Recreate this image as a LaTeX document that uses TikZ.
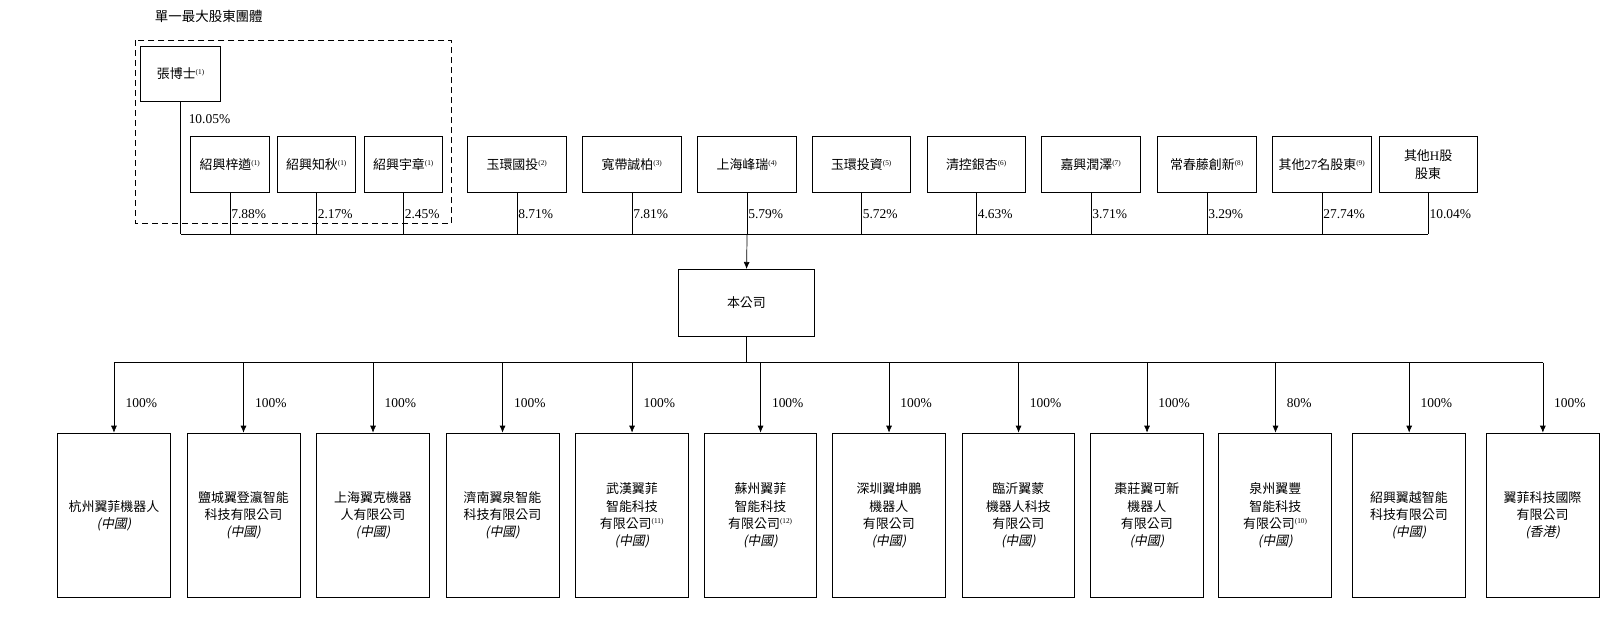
\documentclass[tikz,border=0pt]{standalone}
\usepackage{fontspec}
\usetikzlibrary{arrows.meta}
\setmainfont{Noto Sans CJK TC}
\newfontfamily\lat{Liberation Serif}
\newfontfamily\cjkit{Noto Sans CJK TC}[FakeSlant=0.2]
\newcommand{\nt}[1]{\textsuperscript{\lat\scriptsize(#1)}}
\newcommand{\cn}{{\cjkit (中國)}}
\begin{document}
\begin{tikzpicture}[x=1pt,y=-1pt,scale=1.036,every node/.style={transform shape},
  box/.style={draw,line width=0.8pt,inner sep=0pt,align=center,font=\fontsize{12.5}{18}\selectfont},
  pct/.style={anchor=west,font=\lat\fontsize{13}{15}\selectfont,inner sep=1pt},
  ln/.style={line width=0.7pt},
  arr/.style={ln,-{Latex[length=7pt,width=6pt]}}]
\useasboundingbox (0,0) rectangle (1567.6,597.5);
\node[anchor=west,font=\fontsize{13}{15}\selectfont] (title) at (146,16) {單一最大股東團體};
\draw[dashed,line width=0.9pt,dash pattern=on 6pt off 4pt] (131,39) rectangle (436,216);
\node[box,minimum width=77pt,minimum height=53pt] (z) at (174.5,71.5) {張博士\nt{1}};
\foreach \n/\x/\w/\t in {
 a/222/76/{紹興梓遒\nt{1}}, b/305.5/75/{紹興知秋\nt{1}}, c/389.5/75/{紹興宇章\nt{1}},
 d/499/96/{玉環國投\nt{2}}, e/610/96/{寬帶誠柏\nt{3}}, f/721/96/{上海峰瑞\nt{4}},
 g/831.5/95/{玉環投資\nt{5}}, h/942.5/95/{清控銀杏\nt{6}}, i/1053/96/{嘉興潤澤\nt{7}},
 j/1165/96/{常春藤創新\nt{8}}, k/1276/96/{其他{\lat 27}名股東\nt{9}}, l/1378.5/95/{其他{\lat H}股\\股東}}
 {\node[box,minimum width=\w pt,minimum height=54pt] (\n) at (\x,159) {\t};
  \coordinate (\n b) at (\x,226);}
\coordinate (zb) at (174.5,226);
\draw[ln] (z.south) -- (zb);
\node[pct] at (181,115) {10.05\%};
\foreach \n/\p in {a/7.88,b/2.17,c/2.45,d/8.71,e/7.81,f/5.79,g/5.72,h/4.63,i/3.71,j/3.29,k/27.74,l/10.04}
 {\draw[ln] (\n.south) -- (\n b); \path (\n.south) ++(0,20) node[pct] {\p\%};}
\draw[ln] (zb) -- (lb);
\node[box,minimum width=131pt,minimum height=65pt] (co) at (720.5,292.5) {本公司};
\draw[arr] (fb) -- (co.north);
\coordinate (cj) at (720.5,350);
\draw[ln] (co.south) -- (cj);
\foreach \n/\x/\p/\t in {
 s1/110/100/{杭州翼菲機器人\\\cn},
 s2/235/100/{鹽城翼登瀛智能\\科技有限公司\\\cn},
 s3/360/100/{上海翼克機器\\人有限公司\\\cn},
 s4/485/100/{濟南翼泉智能\\科技有限公司\\\cn},
 s5/610/100/{武漢翼菲\\智能科技\\有限公司\nt{11}\\\cn},
 s6/734/100/{蘇州翼菲\\智能科技\\有限公司\nt{12}\\\cn},
 s7/858/100/{深圳翼坤鵬\\機器人\\有限公司\\\cn},
 s8/983/100/{臨沂翼蒙\\機器人科技\\有限公司\\\cn},
 s9/1107/100/{棗莊翼可新\\機器人\\有限公司\\\cn},
 s10/1231/80/{泉州翼豐\\智能科技\\有限公司\nt{10}\\\cn},
 s11/1360/100/{紹興翼越智能\\科技有限公司\\\cn},
 s12/1489/100/{翼菲科技國際\\有限公司\\{\cjkit (香港)}}}
 {\node[box,minimum width=109pt,minimum height=159pt,font=\fontsize{12.5}{16.5}\selectfont] (\n) at (\x,497.5) {\t};
  \coordinate (\n t) at (\x,350);
  \draw[arr] (\n t) -- (\n.north);
  \node[pct] at (\x+10,389) {\p\%};}
\draw[ln] (s1t) -- (s12t);
\end{tikzpicture}
\end{document}
